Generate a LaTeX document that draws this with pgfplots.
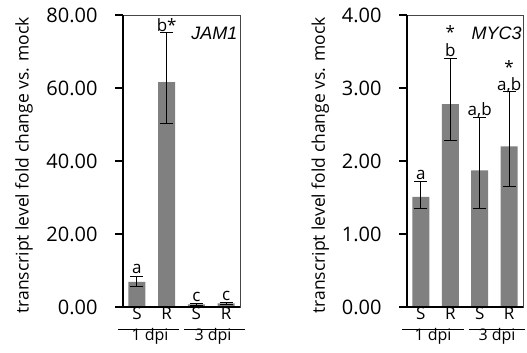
\documentclass[border=0pt]{standalone}
\usepackage{pgfplots}
\usepackage{pgfplotstable}
\pgfplotsset{compat=1.18}
\usepackage{fontspec}
\setmainfont{Open Sans}
\newfontfamily\arialfont{Liberation Sans}
\definecolor{barg}{RGB}{128,128,128}
\definecolor{frameg}{RGB}{70,70,70}

\pgfplotstableread{
x y ep em
0 6.9 1.5 1.4
1 61.6 13.6 11.4
2 0.7 0.3 0.3
3 1.0 0.3 0.3
}\jam
\pgfplotstableread{
x y lab
0 9.3 a
1 75.6 b*
2 1.6 c
3 1.9 c
}\jamlab
\pgfplotstableread{
x y ep em
0 1.51 0.21 0.16
1 2.78 0.63 0.50
2 1.87 0.73 0.52
3 2.20 0.75 0.55
}\myc
\pgfplotstableread{
x y lab
0 1.74 a
1 3.43 b
2 2.62 a,b
3 2.97 a,b
}\myclab
\pgfplotstableread{
x y lab
1 3.86 *
3 3.38 *
}\mycstar

\pgfplotsset{myax/.style={
  scale only axis, height=292bp,
  xmin=-0.47, xmax=3.47, ymin=0,
  xtick={0,1,2,3}, xticklabels={S,R,S,R},
  xtick align=inside, major x tick style={draw=none},
  ytick align=outside, major tick length=8bp, ytick pos=left,
  major y tick style={draw=black, line width=1.2bp},
  /pgf/number format/assume math mode=true,
  yticklabel={\pgfmathprintnumber[fixed,fixed zerofill,precision=2]{\tick}},
  yticklabel style={font=\fontsize{20bp}{22bp}\selectfont, xshift=-14bp},
  xticklabel style={font=\fontsize{17bp}{19bp}\selectfont, yshift=3.5bp},
  ylabel={transcript level fold change vs. mock},
  axis line style={draw=frameg, line width=0.8bp},
  clip=false,
  bar width=17bp,
  after end axis/.append code={
    \draw[line width=1.6bp, black] (rel axis cs:0,1) -- (rel axis cs:0,0) -- (rel axis cs:1,0);
  },
}}
\pgfplotsset{barplot/.style={ybar, bar shift=0pt, fill=barg, draw=none,
  error bars/.cd, y dir=both, y explicit,
  error bar style={black, line width=1bp},
  error mark options={black, rotate=90, mark size=6.5bp, line width=1bp}}}
\pgfplotsset{labplot/.style={draw=none, mark=none,
  nodes near coords, point meta=explicit symbolic,
  every node near coord/.style={anchor=base, inner sep=0pt, font=\fontsize{17bp}{19bp}\selectfont, black}}}

\begin{document}
\begin{tikzpicture}[x=1bp,y=1bp]
\path[use as bounding box] (0,0) rectangle (527,352);
\begin{axis}[myax, at={(123bp,45bp)}, anchor=south west, width=117bp,
  ymax=80, ytick={0,20,40,60,80},
  ylabel style={at={(rel axis cs:-0.77,0.485)}, anchor=south, inner sep=0pt, font=\fontsize{17.5bp}{19bp}\selectfont},
  after end axis/.append code={\node[anchor=north east, inner sep=0pt, font=\arialfont\itshape\fontsize{18bp}{20bp}\selectfont] at (rel axis cs:0.98,0.96) {JAM1};}]
\addplot[barplot] table[x=x, y=y, y error plus=ep, y error minus=em] {\jam};
\addplot[labplot] table[x=x, y=y, meta=lab] {\jamlab};
\end{axis}
\begin{axis}[myax, at={(407bp,45bp)}, anchor=south west, width=116bp,
  ymax=4, ytick={0,1,2,3,4},
  ylabel style={at={(rel axis cs:-0.67,0.485)}, anchor=south, inner sep=0pt, font=\fontsize{17.5bp}{19bp}\selectfont},
  after end axis/.append code={\node[anchor=north east, inner sep=0pt, font=\arialfont\itshape\fontsize{18bp}{20bp}\selectfont] at (rel axis cs:0.99,0.96) {MYC3};}]
\addplot[barplot] table[x=x, y=y, y error plus=ep, y error minus=em] {\myc};
\addplot[labplot] table[x=x, y=y, meta=lab] {\myclab};
\addplot[labplot, every node near coord/.append style={anchor=north}] table[x=x, y=y, meta=lab] {\mycstar};
\end{axis}
\begin{scope}[line width=0.8bp]
\draw (118,23) -- (179,23);
\draw (184,23) -- (245,23);
\draw (402,23) -- (464,23);
\draw (469,23) -- (525,23);
\end{scope}
\begin{scope}[font=\fontsize{16bp}{18bp}\selectfont, every node/.style={anchor=base, inner sep=0pt}]
\node at (150,12) {1 dpi};
\node at (213,12) {3 dpi};
\node at (433,12) {1 dpi};
\node at (497,12) {3 dpi};
\end{scope}
\end{tikzpicture}
\end{document}
